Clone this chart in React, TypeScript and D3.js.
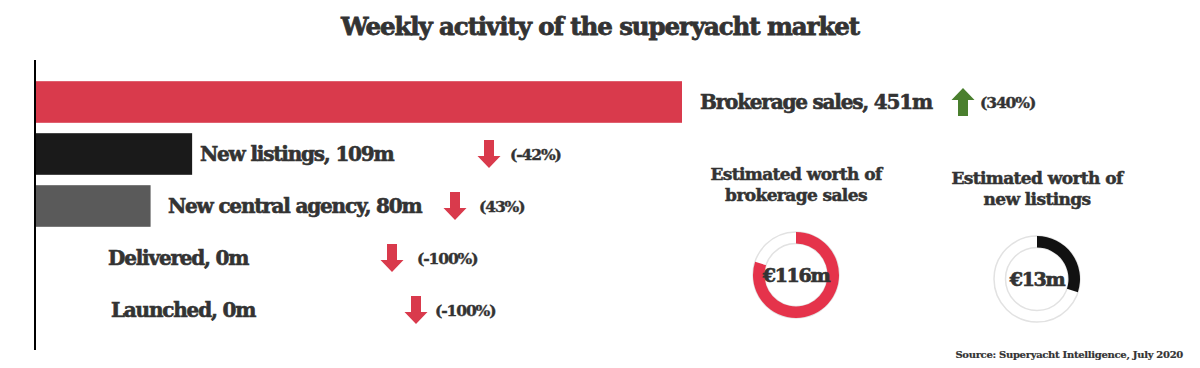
import { useEffect, useRef } from 'react'
import * as d3 from 'd3'

// data
const categories = ['Brokerage sales', 'New listings', 'New central agency', 'Delivered', 'Launched']
const values = [451, 109, 80, 0, 0]
const changes = ['(340%)', '(-42%)', '(43%)', '(-100%)', '(-100%)']
const directions = ['up', 'down', 'down', 'down', 'down']

const donutTitles = [['Estimated worth of', 'brokerage sales'], ['Estimated worth of', 'new listings']]
const donutLabels = ['€116m', '€13m']
const donutShares = [0.8, 0.3]

// layout (hand placed like the original graphic)
const labelX = [700, 200, 168, 108, 111]
const arrowX = [963, 489, 455, 392, 416]
const pctX = [980, 510, 479, 417, 435]
const barColors = ['#d93a4c', '#1a1a1a', '#5a5a5a', '#5a5a5a', '#5a5a5a']
const donutColors = ['#e5334b', '#111111']
const donutCenters = [[796, 275], [1037, 279]]
const donutTitleX = [796, 1037]
const donutTitleY = [180, 184]

const FONT = '"DejaVu Serif", serif'
const TEXT = '#333333'

// bold serif text, thickened a little with a stroke to get the heavy look
function heavy(sel: any, size: number, spacing: number, weight = 0.6) {
  return sel
    .style('font-family', FONT).style('font-weight', 'bold')
    .style('font-size', `${size}px`).style('letter-spacing', `${spacing}px`)
    .attr('fill', TEXT)
    .attr('stroke', TEXT).attr('stroke-width', weight)
}

export default function App() {
  const svgRef = useRef<SVGSVGElement>(null)

  useEffect(() => {
    if (!svgRef.current) return
    const svg = d3.select(svgRef.current)
    svg.selectAll('*').remove()

    const x = d3.scaleLinear().domain([0, 451]).range([36, 682])
    const y = d3.scaleBand<string>().domain(categories).range([76, 336]).paddingInner(0.2).paddingOuter(0.1)

    // title
    heavy(svg.append('text')
      .attr('x', 600).attr('y', 35)
      .attr('text-anchor', 'middle'), 24.5, -1.1, 0.8)
      .text('Weekly activity of the superyacht market')

    // bars
    svg.append('g').selectAll('rect')
      .data(values)
      .join('rect')
      .attr('x', x(0))
      .attr('y', (d, i) => y(categories[i])!)
      .attr('width', d => x(d) - x(0))
      .attr('height', y.bandwidth())
      .attr('fill', (d, i) => barColors[i])

    // axis line
    svg.append('line')
      .attr('x1', 35).attr('x2', 35).attr('y1', 60).attr('y2', 350)
      .attr('stroke', '#000').attr('stroke-width', 2)

    const rows = svg.append('g')
    categories.forEach((c, i) => {
      const cy = y(c)! + y.bandwidth() / 2
      heavy(rows.append('text')
        .attr('x', labelX[i]).attr('y', cy + 7), 20, -1.2, 0.6)
        .text(`${c}, ${values[i]}m`)

      // arrow: shaft 10 wide, head 23 wide, total 28 tall
      const ax = arrowX[i]
      const up = directions[i] === 'up'
      const top = cy - 14
      const pts = up
        ? [[ax, top], [ax + 11.5, top + 12], [ax + 5, top + 12], [ax + 5, top + 28], [ax - 5, top + 28], [ax - 5, top + 12], [ax - 11.5, top + 12]]
        : [[ax - 5, top], [ax + 5, top], [ax + 5, top + 16], [ax + 11.5, top + 16], [ax, top + 28], [ax - 11.5, top + 16], [ax - 5, top + 16]]
      rows.append('path')
        .attr('d', d3.line()(pts as [number, number][]) + 'Z')
        .attr('fill', up ? '#4a7f2e' : '#d93a4c')

      heavy(rows.append('text')
        .attr('x', pctX[i]).attr('y', cy + 6), 15.5, -1.1, 0.4)
        .text(changes[i])
    })

    // donuts
    const outer = 43
    const inner = 31.5
    donutShares.forEach((share, i) => {
      const [cx, cy] = donutCenters[i]
      const g = svg.append('g').attr('transform', `translate(${cx},${cy})`)
      const arc = d3.arc<any>().innerRadius(inner).outerRadius(outer)
      g.append('path')
        .attr('d', arc({ startAngle: 0, endAngle: 2 * Math.PI })!)
        .attr('fill', 'none').attr('stroke', '#e2e2e2').attr('stroke-width', 1.5)
      g.append('path')
        .attr('d', arc({ startAngle: 0, endAngle: share * 2 * Math.PI })!)
        .attr('fill', donutColors[i])
      heavy(g.append('text')
        .attr('y', 7)
        .attr('text-anchor', 'middle'), 19, -1.3, 0.7)
        .text(donutLabels[i])

      donutTitles[i].forEach((line, j) => {
        heavy(svg.append('text')
          .attr('x', donutTitleX[i]).attr('y', donutTitleY[i] + j * 21)
          .attr('text-anchor', 'middle'), 17, -0.6, 0.5)
          .text(line)
      })
    })

    // source
    heavy(svg.append('text')
      .attr('x', 1183).attr('y', 358)
      .attr('text-anchor', 'end'), 10, -0.3, 0.2)
      .text('Source: Superyacht Intelligence, July 2020')
  }, [])

  return (
    <svg
      ref={svgRef}
      width={1200}
      height={368}
      style={{ position: 'absolute', left: 0, top: 0, background: '#fff', display: 'block' }}
    />
  )
}
